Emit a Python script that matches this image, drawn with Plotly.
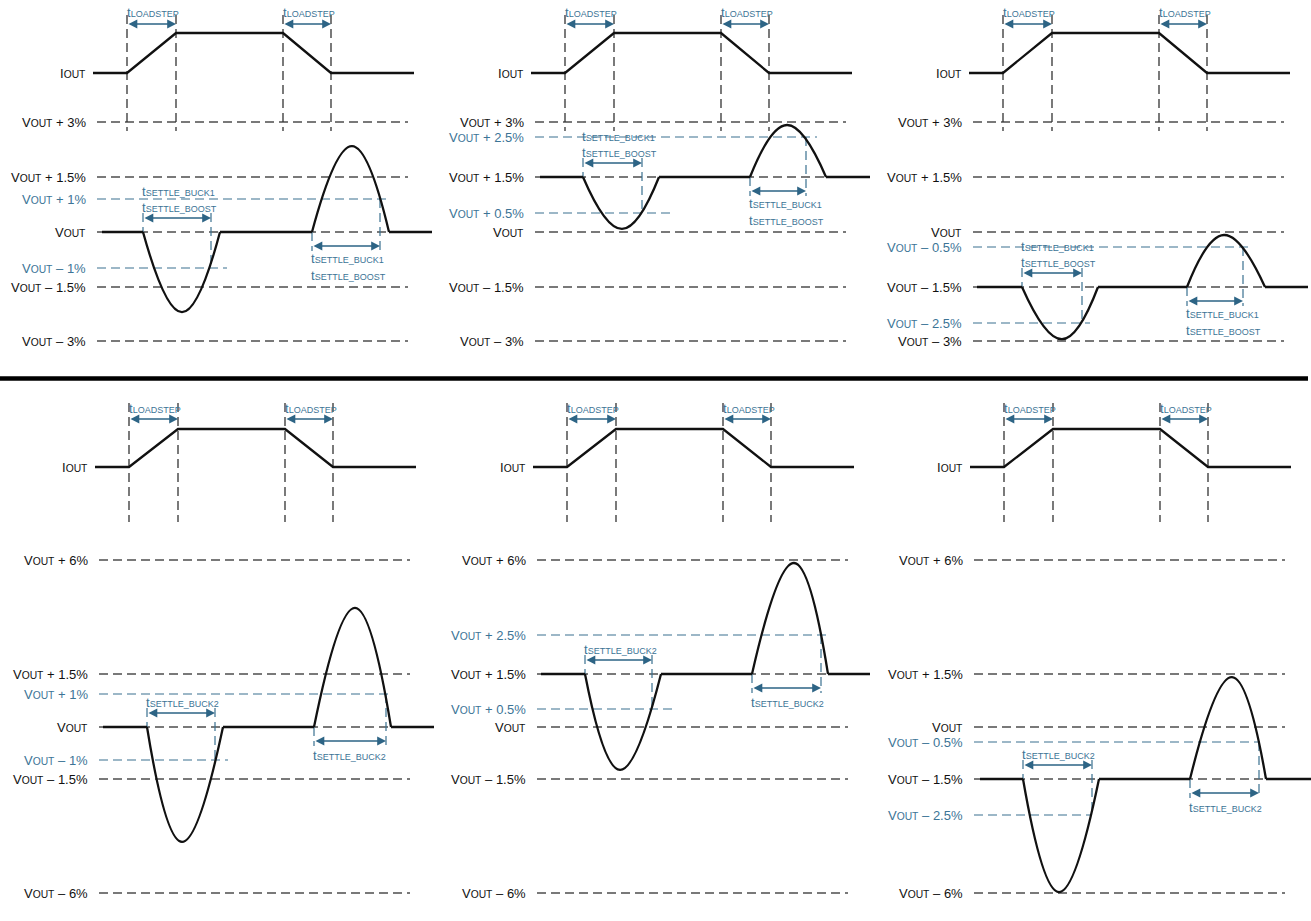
import numpy as np
import plotly.graph_objects as go

# ---------------- data ----------------
# panels: top row left/centre/right, then bottom row left/centre/right
panel_row = [0, 0, 0, 1, 1, 1]

# load current step (shared time axis, arbitrary units) and normalised level
iout_t = [93, 127, 176, 283, 331, 414]
iout_v = [0, 0, 1, 1, 0, 0]

# grey reference levels (% of VOUT) for each row
levels_top = [3, 1.5, 0, -1.5, -3]
levels_bottom = [6, 1.5, 0, -1.5, -6]

# per panel regulation values (% of VOUT)
base_pct = [0, 1.5, -1.5, 0, 1.5, -1.5]
tol_hi_pct = [1, 2.5, -0.5, 1, 2.5, -0.5]
tol_lo_pct = [-1, 0.5, -2.5, -1, 0.5, -2.5]
under_pct = [-2.2, 0.08, -2.95, -3.71, -1.26, -5.96]
over_pct = [2.27, 2.9, -0.1, 3.76, 5.86, 1.42]

# per panel timing of the output voltage response
vout_t0 = [102, 102, 101, 101, 101, 103]
vout_t1 = [432, 432, 432, 432, 430, 434]
dip_start = [143, 145, 146, 145, 145, 146]
dip_min_t = [182, 184, 186, 180, 180, 182]
settle1_end = [211, 204, 206, 213, 212, 215]
dip_end = [220, 221, 222, 221, 221, 222]
bump_start = [312, 312, 311, 312, 312, 313]
bump_max_t = [352, 349, 348, 353, 354, 355]
settle2_end = [380, 368, 367, 384, 381, 382]
bump_end = [389, 388, 389, 389, 388, 389]

settle_labels_top = ["SETTLE_BUCK1", "SETTLE_BOOST"]
settle_labels_bottom = ["SETTLE_BUCK2"]
loadstep_label = "LOADSTEP"

# ---------------- layout / style ----------------
W, H = 1311, 921
panel_x0 = [0, 438, 876, 2, 440, 877]
yscale_pct = [-6, -3, -2.5, -1.5, -1, -0.5, 0, 0.5, 1, 1.5, 2.5, 3, 6]
row_yscale = [
    [420, 341, 323, 287, 268, 247, 232, 213, 199, 177, 137, 122, 40],
    [893, 826, 815, 779, 760, 742, 727, 709, 694, 674, 635, 624, 560],
]
row_cfg = [
    dict(iout_lo=73, iout_hi=33, vtop=15, vbot=131, ls_arrow=24, ls_label=12),
    dict(iout_lo=467, iout_hi=429, vtop=403, vbot=522, ls_arrow=419, ls_label=408),
]
tol_hi_end = [390, 379, 377, 390, 390, 383]
tol_lo_end = [227, 234, 214, 226, 233, 215]
LEVEL_X0, LEVEL_X1, LABEL_X = 97, 408, 88

BLACK = "#111111"
GREY = "#4d4d4d"
BLUE_LINE = "#3a7190"
BLUE_ARROW = "#2d6485"
BLUE_TEXT = "#3c7496"
FONT = "Liberation Sans, Arial, Helvetica, sans-serif"
DASH = "9px,5px"
SUB_MAIN = '<span style="font-size:10.3px">{}</span>'
SUB_T = '<span style="font-size:9px">{}</span>'


def ymap(row, pct):
    return float(np.interp(pct, yscale_pct, row_yscale[row]))


def level_text(p):
    v = "V" + SUB_MAIN.format("OUT")
    if p == 0:
        return v
    sign = "+" if p > 0 else "\u2013"
    return f"{v} {sign} {abs(p):g}%"


def t_text(s):
    return "t" + SUB_T.format(s)


def text_ann(x, y, text, color, anchor):
    return dict(x=x, y=y, text=text, showarrow=False, xanchor=anchor, yanchor="middle",
                font=dict(size=13, color=color, family=FONT))


def arrow_ann(xa, xb, y):
    return dict(x=xb, y=y, ax=xa, ay=y, xref="x", yref="y", axref="x", ayref="y", text="",
                showarrow=True, arrowside="end+start", arrowhead=2, startarrowhead=2,
                arrowsize=1.1, startarrowsize=1.1, arrowwidth=1.6, arrowcolor=BLUE_ARROW,
                standoff=0, startstandoff=0)


fig = go.Figure()
annotations = []

grey_x, grey_y = [], []
blue_x, blue_y = [], []
vdash_x, vdash_y = [], []
wave_x, wave_y = [], []
iout_traces, hump_traces = [], []

for i in range(6):
    r = panel_row[i]
    x0 = panel_x0[i]
    cfg = row_cfg[r]
    levels = levels_top if r == 0 else levels_bottom

    # grey reference levels
    for p in levels:
        y = ymap(r, p)
        grey_x += [x0 + LEVEL_X0, x0 + LEVEL_X1, None]
        grey_y += [y, y, None]
        annotations.append(text_ann(x0 + LABEL_X, y, level_text(p), BLACK, "right"))
    # blue tolerance levels
    yh = ymap(r, tol_hi_pct[i])
    yl = ymap(r, tol_lo_pct[i])
    blue_x += [x0 + LEVEL_X0, x0 + tol_hi_end[i], None, x0 + LEVEL_X0, x0 + tol_lo_end[i], None]
    blue_y += [yh, yh, None, yl, yl, None]
    annotations.append(text_ann(x0 + LABEL_X, yh, level_text(tol_hi_pct[i]), BLUE_TEXT, "right"))
    annotations.append(text_ann(x0 + LABEL_X, yl, level_text(tol_lo_pct[i]), BLUE_TEXT, "right"))

    # load current
    iy = [cfg["iout_lo"] if v == 0 else cfg["iout_hi"] for v in iout_v]
    iout_traces.append(go.Scatter(x=[x0 + t for t in iout_t], y=iy, mode="lines",
                                  line=dict(color=BLACK, width=2.3), hoverinfo="skip"))
    annotations.append(text_ann(x0 + LABEL_X, cfg["iout_lo"], "I" + SUB_MAIN.format("OUT"),
                                BLACK, "right"))
    for t in iout_t[1:5]:
        vdash_x += [x0 + t, x0 + t, None]
        vdash_y += [cfg["vtop"], cfg["vbot"], None]
    for a, b in ((iout_t[1], iout_t[2]), (iout_t[3], iout_t[4])):
        annotations.append(arrow_ann(x0 + a, x0 + b, cfg["ls_arrow"]))
        annotations.append(text_ann(x0 + a - 2, cfg["ls_label"], t_text(loadstep_label),
                                    BLUE_TEXT, "left"))

    # output voltage: flat segments
    yb = ymap(r, base_pct[i])
    for a, b in ((vout_t0[i], dip_start[i]), (dip_end[i], bump_start[i]), (bump_end[i], vout_t1[i])):
        wave_x += [x0 + a, x0 + b, None]
        wave_y += [yb, yb, None]
    # undershoot and overshoot humps (smooth curve through start, extremum, end)
    for hx, hp in (([dip_start[i], dip_min_t[i], dip_end[i]], [base_pct[i], under_pct[i], base_pct[i]]),
                   ([bump_start[i], bump_max_t[i], bump_end[i]], [base_pct[i], over_pct[i], base_pct[i]])):
        hump_traces.append(go.Scatter(x=[x0 + t for t in hx], y=[ymap(r, p) for p in hp],
                                      mode="lines",
                                      line=dict(color=BLACK, width=2.3, shape="spline", smoothing=1.3),
                                      hoverinfo="skip"))

    # settling-time arrows
    ya1 = yb - 14
    ya2 = yb + 14
    blue_x += [x0 + settle1_end[i], x0 + settle1_end[i], None, x0 + settle2_end[i], x0 + settle2_end[i], None]
    blue_y += [ya1 - 5, yl, None, yh, ya2 + 5, None]
    blue_x += [x0 + dip_start[i], x0 + dip_start[i], None, x0 + bump_start[i], x0 + bump_start[i], None]
    blue_y += [ya1 - 5, yb, None, yb, ya2 + 5, None]
    annotations.append(arrow_ann(x0 + dip_start[i], x0 + settle1_end[i], ya1))
    annotations.append(arrow_ann(x0 + bump_start[i], x0 + settle2_end[i], ya2))
    labels = settle_labels_top if r == 0 else settle_labels_bottom
    if r == 0:
        above = [ya1 - 27, ya1 - 11]
        below = [ya2 + 12, ya2 + 29]
    else:
        above = [ya1 - 11]
        below = [ya2 + 14]
    for lab, y in zip(labels, above):
        annotations.append(text_ann(x0 + dip_start[i] - 3, y, t_text(lab), BLUE_TEXT, "left"))
    for lab, y in zip(labels, below):
        annotations.append(text_ann(x0 + bump_start[i] - 3, y, t_text(lab), BLUE_TEXT, "left"))

# dashed guide lines behind, waveforms on top
fig.add_trace(go.Scatter(x=grey_x, y=grey_y, mode="lines",
                         line=dict(color=GREY, width=1.3, dash=DASH), hoverinfo="skip"))
fig.add_trace(go.Scatter(x=vdash_x, y=vdash_y, mode="lines",
                         line=dict(color="#333333", width=1.3, dash=DASH), hoverinfo="skip"))
fig.add_trace(go.Scatter(x=blue_x, y=blue_y, mode="lines",
                         line=dict(color=BLUE_LINE, width=1.2, dash=DASH), hoverinfo="skip"))
for tr in iout_traces + hump_traces:
    fig.add_trace(tr)
fig.add_trace(go.Scatter(x=wave_x, y=wave_y, mode="lines",
                         line=dict(color=BLACK, width=2.3), hoverinfo="skip"))

# separator between the two rows
fig.add_trace(go.Scatter(x=[0, 1308], y=[378.5, 378.5], mode="lines",
                         line=dict(color="#000000", width=4.5), hoverinfo="skip"))

fig.update_layout(
    width=W, height=H, margin=dict(l=0, r=0, t=0, b=0),
    paper_bgcolor="white", plot_bgcolor="white", showlegend=False,
    xaxis=dict(range=[0, W], visible=False, fixedrange=True),
    yaxis=dict(range=[H, 0], visible=False, fixedrange=True),
    annotations=annotations,
)
# remove the default page margin so the figure fills the window exactly
fig.write_html("out.html", config={"displayModeBar": False},
               post_script="document.body.style.margin='0';document.body.style.overflow='hidden';")
